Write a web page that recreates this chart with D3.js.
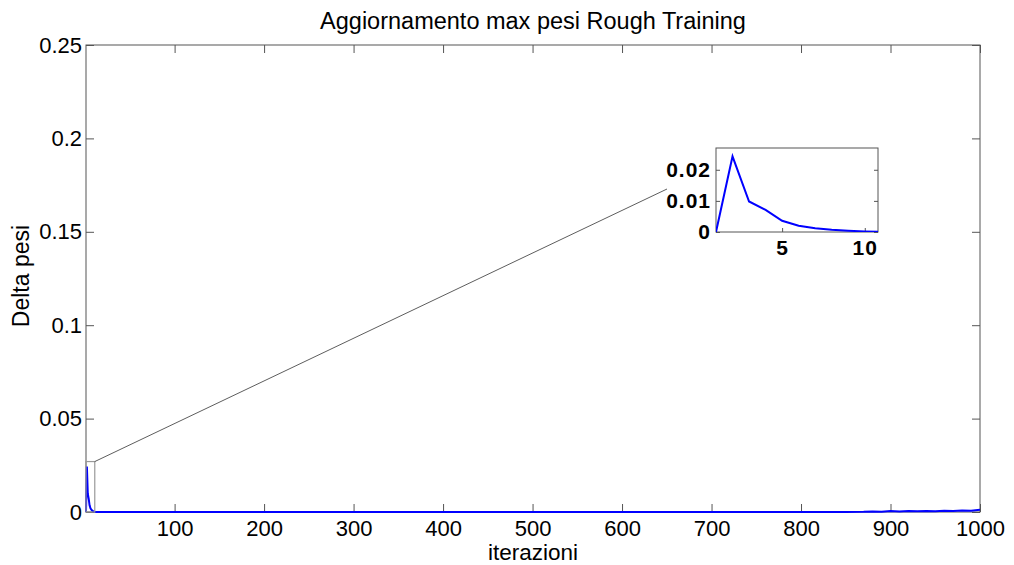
<!DOCTYPE html>
<html>
<head>
<meta charset="utf-8">
<script src="https://cdn.jsdelivr.net/npm/d3@7"></script>
<style>
  body { margin: 0; background: #fff; }
  text { font-family: "Liberation Sans", Arial, sans-serif; }
</style>
</head>
<body>
<svg id="chart" width="1014" height="565"></svg>
<script>
// data
const iterations = [1, 2, 3, 4, 5, 6, 7, 8, 9, 10, 11, 12, 15, 20, 50, 100, 200, 300, 400, 500, 600, 700, 800, 850,
  870, 880, 890, 900, 910, 920, 930, 940, 950, 960, 970, 980, 990, 1000];
const deltaPesi = [0, 0.0243, 0.0098, 0.0071, 0.0036, 0.0020, 0.0012, 0.0007, 0.0004, 0.0002, 0.0001, 0.00005, 0.00002, 0, 0, 0, 0, 0, 0, 0, 0, 0, 0, 0,
  0.0001, 0.0003, 0.0002, 0.0005, 0.0003, 0.0005, 0.0004, 0.0006, 0.0004, 0.0007, 0.0005, 0.0008, 0.0007, 0.0012];
const xTicks = [100, 200, 300, 400, 500, 600, 700, 800, 900, 1000];
const yTicks = [0, 0.05, 0.1, 0.15, 0.2, 0.25];
const insetXTicks = [5, 10];
const insetYTicks = [0, 0.01, 0.02];
const insetXDomain = [1, 10.8];
const insetYDomain = [0, 0.027];

const data = iterations.map((it, i) => ({ it, v: deltaPesi[i] }));

const svg = d3.select("#chart");
const margin = { top: 45, right: 34, bottom: 53, left: 86 };
const width = 1014 - margin.left - margin.right;
const height = 565 - margin.top - margin.bottom;
const axisColor = "#555";

const x = d3.scaleLinear().domain([1, 1000]).range([0, width]);
const y = d3.scaleLinear().domain([0, 0.25]).range([height, 0]);

const g = svg.append("g").attr("transform", `translate(${margin.left},${margin.top})`);

// box
g.append("rect").attr("width", width).attr("height", height)
  .attr("fill", "none").attr("stroke", axisColor).attr("stroke-width", 1);

// ticks (inward, all sides)
const fmtY = d => d === 0 ? "0" : String(d);
g.append("g").attr("transform", `translate(0,${height})`)
  .call(d3.axisBottom(x).tickValues(xTicks).tickFormat(d3.format("d")).tickSizeInner(-8).tickSizeOuter(0).tickPadding(8))
  .call(a => a.select(".domain").remove())
  .call(a => a.selectAll("line").attr("stroke", axisColor))
  .call(a => a.selectAll("text").attr("font-size", 22).attr("fill", "#000"));
g.append("g")
  .call(d3.axisTop(x).tickValues(xTicks).tickSizeInner(-8).tickSizeOuter(0).tickFormat(""))
  .call(a => a.select(".domain").remove())
  .call(a => a.selectAll("line").attr("stroke", axisColor));
g.append("g")
  .call(d3.axisLeft(y).tickValues(yTicks).tickFormat(fmtY).tickSizeInner(-8).tickSizeOuter(0).tickPadding(4))
  .call(a => a.select(".domain").remove())
  .call(a => a.selectAll("line").attr("stroke", axisColor))
  .call(a => a.selectAll("text").attr("font-size", 22).attr("fill", "#000"));
g.append("g").attr("transform", `translate(${width},0)`)
  .call(d3.axisRight(y).tickValues(yTicks).tickSizeInner(-8).tickSizeOuter(0).tickFormat(""))
  .call(a => a.select(".domain").remove())
  .call(a => a.selectAll("line").attr("stroke", axisColor));

// main line
g.append("path").datum(data)
  .attr("fill", "none").attr("stroke", "#0000ff").attr("stroke-width", 2)
  .attr("d", d3.line().x(d => x(d.it)).y(d => y(d.v)));

// zoom rectangle in main plot
const rx0 = x(insetXDomain[0]), rx1 = x(insetXDomain[1]);
const ry0 = y(insetYDomain[1]), ry1 = y(insetYDomain[0]);
g.append("rect").attr("x", rx0).attr("y", ry0).attr("width", rx1 - rx0).attr("height", ry1 - ry0)
  .attr("fill", "none").attr("stroke", "#999").attr("stroke-width", 1.2);

// inset
const inset = { left: 716, top: 148, width: 162, height: 84 };
const ix = d3.scaleLinear().domain(insetXDomain).range([0, inset.width]);
const iy = d3.scaleLinear().domain(insetYDomain).range([inset.height, 0]);

// connector
g.append("line")
  .attr("x1", rx1).attr("y1", ry0)
  .attr("x2", 667 - margin.left).attr("y2", 189 - margin.top)
  .attr("stroke", "#333").attr("stroke-width", 0.8);

const ig = svg.append("g").attr("transform", `translate(${inset.left},${inset.top})`);
ig.append("rect").attr("width", inset.width).attr("height", inset.height)
  .attr("fill", "#fff").attr("stroke", axisColor);

ig.append("clipPath").attr("id", "insetClip")
  .append("rect").attr("width", inset.width).attr("height", inset.height);

ig.append("g").attr("transform", `translate(0,${inset.height})`)
  .call(d3.axisBottom(ix).tickValues(insetXTicks).tickSizeInner(-4).tickSizeOuter(0).tickPadding(8))
  .call(a => a.select(".domain").remove())
  .call(a => a.selectAll("line").attr("stroke", axisColor))
  .call(a => a.selectAll("text").attr("font-size", 21).attr("font-weight", "bold").attr("letter-spacing", 1).attr("fill", "#000"));
ig.append("g")
  .call(d3.axisLeft(iy).tickValues(insetYTicks).tickFormat(fmtY).tickSizeInner(-4).tickSizeOuter(0).tickPadding(5))
  .call(a => a.select(".domain").remove())
  .call(a => a.selectAll("line").attr("stroke", axisColor))
  .call(a => a.selectAll("text").attr("font-size", 21).attr("font-weight", "bold").attr("letter-spacing", 1).attr("fill", "#000"));
ig.append("g").attr("transform", `translate(${inset.width},0)`)
  .call(d3.axisRight(iy).tickValues(insetYTicks).tickSizeInner(-4).tickSizeOuter(0).tickFormat(""))
  .call(a => a.select(".domain").remove())
  .call(a => a.selectAll("line").attr("stroke", axisColor));

ig.append("path").datum(data.filter(d => d.it <= 12))
  .attr("clip-path", "url(#insetClip)")
  .attr("fill", "none").attr("stroke", "#0000ff").attr("stroke-width", 2)
  .attr("d", d3.line().x(d => ix(d.it)).y(d => iy(d.v)));

// titles
svg.append("text")
  .attr("x", margin.left + width / 2).attr("y", 29)
  .attr("text-anchor", "middle").attr("font-size", 23.5)
  .text("Aggiornamento max pesi Rough Training");
svg.append("text")
  .attr("x", margin.left + width / 2).attr("y", 560)
  .attr("text-anchor", "middle").attr("font-size", 22.5)
  .text("iterazioni");
svg.append("text")
  .attr("transform", "rotate(-90)")
  .attr("x", -276).attr("y", 29)
  .attr("text-anchor", "middle").attr("font-size", 23)
  .text("Delta pesi");
</script>
</body>
</html>
